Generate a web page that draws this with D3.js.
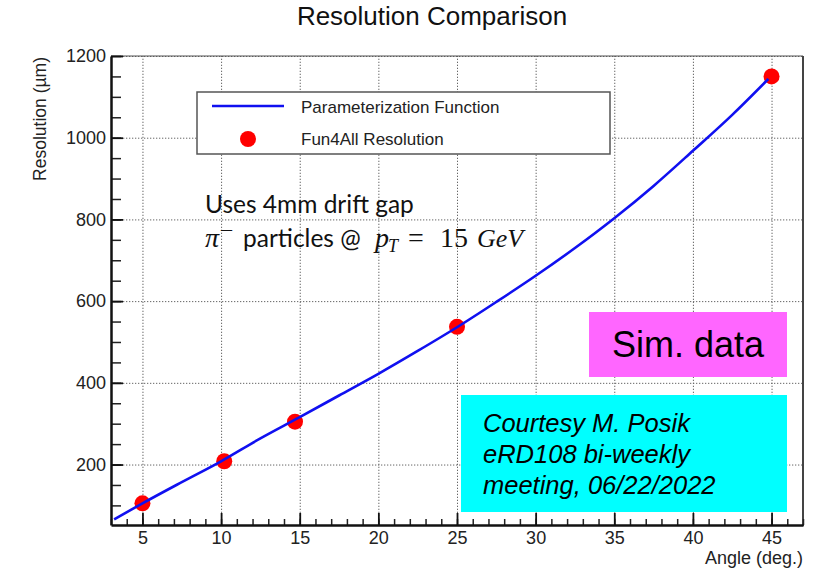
<!DOCTYPE html>
<html>
<head>
<meta charset="utf-8">
<script src="https://cdn.jsdelivr.net/npm/d3@7"></script>
<style>
  body { margin: 0; background: #fff; }
  svg { display: block; }
</style>
</head>
<body>
<script>
// data
const pointAngles = [5, 10.2, 14.7, 25, 45]
const pointRes = [105, 208, 305, 537, 1150]

const fitAngles = [3.2, 5, 7.5, 10, 12.5, 15, 17.5, 20, 22.5, 25, 27.5, 30, 32.5, 35, 37.5, 40, 42.5, 44.8]
const fitRes = [66, 105, 157, 208, 264, 316, 369, 422, 478, 536, 598, 662, 730, 803, 882, 968, 1056, 1144]

const xTicks = [5, 10, 15, 20, 25, 30, 35, 40, 45]
const yTicks = [200, 400, 600, 800, 1000, 1200]
const xMinor = d3.range(3, 48, 1)
const yMinor = d3.range(100, 1201, 50)

const W = 818, H = 570
const padL = 111, padR = 803, padT = 56, padB = 525

let svg = d3.select('body').append('svg')
    .attr('width', W)
    .attr('height', H)

let x = d3.scaleLinear().domain([3, 47]).range([padL, padR])
let y = d3.scaleLinear().domain([52, 1200]).range([padB, padT])

// grid
svg.append('g')
    .attr('transform', `translate(0,${padB})`)
    .call(d3.axisBottom(x).tickValues(xTicks).tickSize(-(padB - padT)).tickFormat(''))
    .call(g => g.select('.domain').remove())
    .selectAll('line')
    .attr('stroke', '#666')
    .attr('stroke-dasharray', '1.3,1.7')
svg.append('g')
    .attr('transform', `translate(${padL},0)`)
    .call(d3.axisLeft(y).tickValues(yTicks).tickSize(-(padR - padL)).tickFormat(''))
    .call(g => g.select('.domain').remove())
    .selectAll('line')
    .attr('stroke', '#666')
    .attr('stroke-dasharray', '1.3,1.7')

// frame top / right
svg.append('line')
    .attr('x1', padL).attr('x2', padR)
    .attr('y1', padT).attr('y2', padT)
    .attr('stroke', '#555').attr('stroke-width', 1.2)
svg.append('line')
    .attr('x1', padR).attr('x2', padR)
    .attr('y1', padT).attr('y2', padB + 1)
    .attr('stroke', '#444').attr('stroke-width', 2)

// minor ticks (inside the frame, ROOT style)
svg.append('g')
    .attr('transform', `translate(0,${padB})`)
    .call(d3.axisBottom(x).tickValues(xMinor).tickSizeInner(-6).tickSizeOuter(0).tickFormat(''))
    .call(g => g.select('.domain').remove())
    .selectAll('line').attr('stroke', '#222').attr('stroke-width', 1.5)
svg.append('g')
    .attr('transform', `translate(${padL},0)`)
    .call(d3.axisLeft(y).tickValues(yMinor).tickSizeInner(-10).tickSizeOuter(0).tickFormat(''))
    .call(g => g.select('.domain').remove())
    .selectAll('line').attr('stroke', '#222').attr('stroke-width', 1.5)

// major axes
let xAxis = svg.append('g')
    .attr('transform', `translate(0,${padB})`)
    .call(d3.axisBottom(x).tickValues(xTicks).tickSizeInner(-12).tickSizeOuter(0).tickPadding(6).tickFormat(d3.format('d')))
xAxis.select('.domain').attr('stroke', '#111').attr('stroke-width', 2.5)
xAxis.selectAll('line').attr('stroke', '#111').attr('stroke-width', 1.8)
xAxis.selectAll('text')
    .style('font-family', 'Liberation Sans, Arial, sans-serif')
    .style('font-size', '18px')
    .attr('fill', '#222')

let yAxis = svg.append('g')
    .attr('transform', `translate(${padL},0)`)
    .call(d3.axisLeft(y).tickValues(yTicks).tickSizeInner(-12).tickSizeOuter(0).tickPadding(5).tickFormat(d3.format('d')))
yAxis.select('.domain').attr('stroke', '#111').attr('stroke-width', 2.5)
yAxis.selectAll('line').attr('stroke', '#111').attr('stroke-width', 1.8)
yAxis.selectAll('text')
    .style('font-family', 'Liberation Sans, Arial, sans-serif')
    .style('font-size', '18px')
    .attr('fill', '#222')

// axis titles
svg.append('text')
    .attr('x', padR)
    .attr('y', 564)
    .attr('text-anchor', 'end')
    .style('font-family', 'Liberation Sans, Arial, sans-serif')
    .style('font-size', '18px')
    .attr('fill', '#222')
    .text('Angle (deg.)')
svg.append('text')
    .attr('transform', `translate(46,${padT + 1}) rotate(-90)`)
    .attr('text-anchor', 'end')
    .style('font-family', 'Liberation Sans, Arial, sans-serif')
    .style('font-size', '17.5px')
    .attr('fill', '#222')
    .text('Resolution (\u00b5m)')

svg.append('text')
    .attr('x', 432)
    .attr('y', 25)
    .attr('text-anchor', 'middle')
    .style('font-family', 'Liberation Sans, Arial, sans-serif')
    .style('font-size', '26px')
    .attr('fill', '#111')
    .text('Resolution Comparison')

// fit curve
let fitData = fitAngles.map((a, i) => [a, fitRes[i]])
let fitLine = d3.line().x(d => x(d[0])).y(d => y(d[1])).curve(d3.curveMonotoneX)

// points
let ptData = pointAngles.map((a, i) => [a, pointRes[i]])
svg.selectAll('circle.pt')
    .data(ptData)
    .enter().append('circle')
    .attr('class', 'pt')
    .attr('cx', d => x(d[0]))
    .attr('cy', d => y(d[1]))
    .attr('r', 8)
    .attr('fill', '#ff0000')
// line drawn over markers
svg.append('path')
    .datum(fitData)
    .attr('fill', 'none')
    .attr('stroke', '#1010f0')
    .attr('stroke-width', 2.6)
    .attr('d', fitLine)

// legend
let lg = svg.append('g')
lg.append('rect')
    .attr('x', 197).attr('y', 92)
    .attr('width', 413).attr('height', 62)
    .attr('fill', '#fff')
    .attr('stroke', '#555').attr('stroke-width', 1.5)
lg.append('line')
    .attr('x1', 212).attr('x2', 284)
    .attr('y1', 106).attr('y2', 106)
    .attr('stroke', '#1010f0').attr('stroke-width', 2.6)
lg.append('circle')
    .attr('cx', 248).attr('cy', 139).attr('r', 8)
    .attr('fill', '#ff0000')
lg.append('text')
    .attr('x', 301).attr('y', 113)
    .style('font-family', 'Liberation Sans, Arial, sans-serif')
    .style('font-size', '17px')
    .attr('fill', '#222')
    .text('Parameterization Function')
lg.append('text')
    .attr('x', 301).attr('y', 145)
    .style('font-family', 'Liberation Sans, Arial, sans-serif')
    .style('font-size', '17px')
    .attr('fill', '#222')
    .text('Fun4All Resolution')

// annotation
svg.append('text')
    .attr('x', 205).attr('y', 213)
    .style('font-family', 'Lato, Open Sans, sans-serif')
    .style('font-size', '24.5px')
    .attr('fill', '#111')
    .text('Uses 4mm drift gap')
let mt = svg.append('text')
    .attr('x', 205).attr('y', 247)
    .style('font-family', 'Lato, Open Sans, sans-serif')
    .style('font-size', '24.5px')
    .attr('fill', '#111')
const serif = 'Liberation Serif, DejaVu Serif, serif'
mt.append('tspan').attr('x', 205).style('font-family', serif).style('font-style', 'italic').style('font-size', '28px').text('\u03c0')
mt.append('tspan').attr('x', 221).attr('dy', -11).style('font-family', serif).style('font-size', '22px').text('\u2013')
mt.append('tspan').attr('x', 243).attr('dy', 11).text('particles @')
mt.append('tspan').attr('x', 375).style('font-family', serif).style('font-style', 'italic').style('font-size', '28px').text('p')
mt.append('tspan').attr('x', 388).attr('dy', 5).style('font-family', serif).style('font-style', 'italic').style('font-size', '18px').text('T')
mt.append('tspan').attr('x', 408).attr('dy', -5).style('font-family', serif).style('font-size', '28px').text('=')
mt.append('tspan').attr('x', 440).style('font-family', serif).style('font-size', '28px').text('15')
mt.append('tspan').attr('x', 477).style('font-family', serif).style('font-style', 'italic').style('font-size', '26px').text('GeV')

// Sim. data box
svg.append('rect')
    .attr('x', 589).attr('y', 312)
    .attr('width', 198).attr('height', 65)
    .attr('fill', '#ff66ff')
svg.append('text')
    .attr('x', 688).attr('y', 357)
    .attr('text-anchor', 'middle')
    .style('font-family', 'Liberation Sans, Arial, sans-serif')
    .style('font-size', '36px')
    .attr('fill', '#000')
    .text('Sim. data')

// courtesy box
svg.append('rect')
    .attr('x', 461).attr('y', 395)
    .attr('width', 326).attr('height', 117)
    .attr('fill', '#00ffff')
const credit = ['Courtesy M. Posik', 'eRD108 bi-weekly', 'meeting, 06/22/2022']
svg.selectAll('text.credit')
    .data(credit)
    .enter().append('text')
    .attr('class', 'credit')
    .attr('x', 483)
    .attr('y', (d, i) => 432 + i * 31)
    .style('font-family', 'Liberation Sans, Arial, sans-serif')
    .style('font-style', 'italic')
    .style('font-size', '25.5px')
    .attr('fill', '#000')
    .text(d => d)
</script>
</body>
</html>
